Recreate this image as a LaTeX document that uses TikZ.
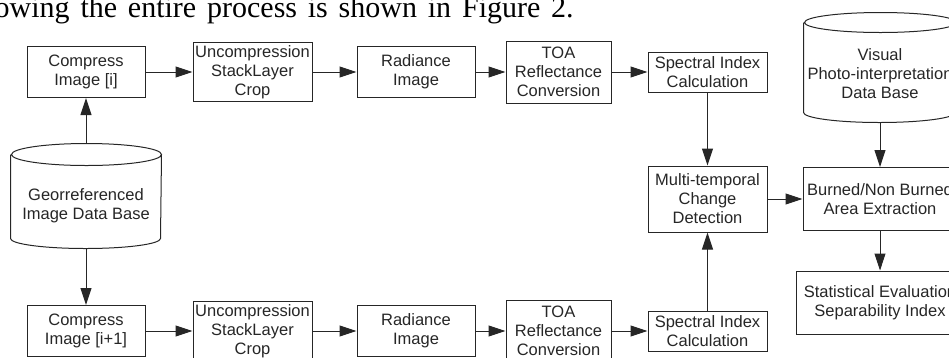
\documentclass[tikz,border=0pt]{standalone}
\usepackage{fontspec}
\setmainfont{Liberation Serif}
\setsansfont{Liberation Sans}
\usetikzlibrary{arrows.meta,shapes.geometric,positioning}
\tikzset{
    basic/.style  = {draw=black!85, line width=1pt, font=\sffamily\fontsize{16.5}{19}\selectfont, text=black!85, align=center, inner sep=0pt},
    stage/.style  = {basic, rectangle},
    database/.style = {basic, draw=none, rectangle},
    dbline/.style = {draw=black!85, line width=1pt},
    flow/.style   = {->, draw=black!85, line width=1pt}
}

\begin{document}
\begin{tikzpicture}[x=1pt, y=-1pt, >={Triangle[length=17pt,width=11pt]}]
	\useasboundingbox (0,0) rectangle (949,357);
	\clip (0,0) rectangle (949,357);
	% text line above the figure
	\node[anchor=base west, inner sep=0pt, font=\fontsize{30}{34}\selectfont] (caption) at (-5.5,17) {\makebox[579pt][s]{owing the entire process is shown in Figure 2.}};
	% image data base
	\node[database, minimum width=150pt, minimum height=104pt] (geo) at (86,196) {};
	\node[database] (geotext) at (86,206) {Georreferenced\\Image Data Base};
	\draw[dbline] ([yshift=-11pt]geo.north west) -- ([yshift=10pt]geo.south west)
		arc[start angle=180, end angle=360, x radius=75pt, y radius=10pt]
		-- ([yshift=-11pt]geo.north east)
		arc[start angle=0, end angle=360, x radius=75pt, y radius=11pt];
	% first date
	\node[stage, minimum width=118pt, minimum height=51pt] (comp1) at (86,72) {Compress\\Image [i]};
	\node[stage, minimum width=119pt, minimum height=59pt] (uncomp1) at (252.5,72) {Uncompression\\StackLayer\\Crop};
	\node[stage, minimum width=118pt, minimum height=51pt] (rad1) at (416,72) {Radiance\\Image};
	\node[stage, minimum width=105pt, minimum height=62pt] (toa1) at (558.5,72) {TOA\\Reflectance\\Conversion};
	\node[stage, minimum width=119pt, minimum height=40pt] (spec1) at (707.5,72) {Spectral Index\\Calculation};
	% second date
	\node[stage, minimum width=118pt, minimum height=51pt] (comp2) at (86,331) {Compress\\Image [i+1]};
	\node[stage, minimum width=119pt, minimum height=59pt] (uncomp2) at (252.5,331) {Uncompression\\StackLayer\\Crop};
	\node[stage, minimum width=118pt, minimum height=51pt] (rad2) at (416,331) {Radiance\\Image};
	\node[stage, minimum width=105pt, minimum height=62pt] (toa2) at (558.5,331) {TOA\\Reflectance\\Conversion};
	\node[stage, minimum width=119pt, minimum height=40pt] (spec2) at (707.5,331) {Spectral Index\\Calculation};
	% change detection and evaluation
	\node[stage, minimum width=119pt, minimum height=66pt] (change) at (707.5,199) {Multi-temporal\\Change\\Detection};
	\node[database, minimum width=152pt, minimum height=109pt] (visual) at (880,67.5) {};
	\node[database] (visualtext) at (880,73.5) {Visual\\Photo-interpretation\\Data Base};
	\draw[dbline] ([yshift=-10pt]visual.north west) -- ([yshift=10pt]visual.south west)
		arc[start angle=180, end angle=360, x radius=76pt, y radius=10pt]
		-- ([yshift=-10pt]visual.north east)
		arc[start angle=0, end angle=360, x radius=76pt, y radius=10pt];
	\node[stage, minimum width=154pt, minimum height=63pt] (burned) at (880,199) {Burned/Non Burned\\Area Extraction};
	\node[stage, minimum width=168pt, minimum height=63pt] (stat) at (880,302.5) {Statistical Evaluation\\Separability Index};

	\draw[flow] (geo) -- (comp1);
	\draw[flow] (geo) -- (comp2);
	\draw[flow] (comp1) -- (uncomp1);
	\draw[flow] (uncomp1) -- (rad1);
	\draw[flow] (rad1) -- (toa1);
	\draw[flow] (toa1) -- (spec1);
	\draw[flow] (comp2) -- (uncomp2);
	\draw[flow] (uncomp2) -- (rad2);
	\draw[flow] (rad2) -- (toa2);
	\draw[flow] (toa2) -- (spec2);
	\draw[flow] (spec1) -- (change);
	\draw[flow] (spec2) -- (change);
	\draw[flow] (change) -- (burned);
	\draw[flow] (visual) -- (burned);
	\draw[flow] (burned) -- (stat);
\end{tikzpicture}
\end{document}
